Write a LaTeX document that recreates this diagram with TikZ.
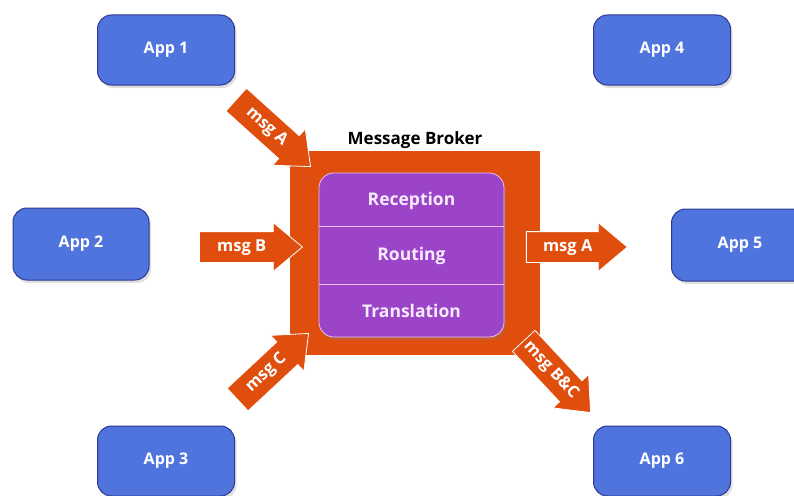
\documentclass[tikz,border=0pt]{standalone}
\usepackage{fontspec}
\setmainfont{Open Sans}
\usetikzlibrary{shapes.arrows,shadows,calc}
\definecolor{appblue}{RGB}{80,116,221}
\definecolor{appborder}{RGB}{45,58,145}
\definecolor{brokerorange}{RGB}{224,78,14}
\definecolor{corepurple}{RGB}{155,68,200}
\definecolor{coreborder}{RGB}{235,190,245}
\definecolor{coretext}{RGB}{248,235,255}
\begin{document}
\begin{tikzpicture}[x=1pt,y=-1pt,
  appbox/.style={draw=appborder, line width=1pt, fill=appblue, rounded corners=14pt,
    minimum width=137pt, minimum height=70pt, text=white,
    font=\bfseries\fontsize{16}{16}\selectfont,
    drop shadow={opacity=0.25, shadow xshift=2pt, shadow yshift=-3pt}},
  fatarrow/.style={single arrow, fill=brokerorange, draw=white, line width=0.8pt,
    text=white, font=\bfseries\fontsize{16.5}{17}\selectfont,
    text height=11.5pt, text depth=3.5pt, inner ysep=7.5pt, inner xsep=3pt,
    single arrow head extend=9pt, single arrow tip angle=80, minimum height=100pt,
    anchor=tip},
  section/.style={text=coretext, font=\bfseries\fontsize{17.5}{18}\selectfont},
  divider/.style={draw=coreborder, line width=0.8pt}
]
\useasboundingbox[fill=white] (0,0) rectangle (794,495);

% applications
\node[appbox] (app1) at (166,50) {App 1};
\node[appbox, minimum width=136pt, minimum height=72pt] (app2) at (81,244) {App 2};
\node[appbox] (app3) at (166,461) {App 3};
\node[appbox] (app4) at (662,50) {App 4};
\node[appbox, minimum height=72pt] (app5) at (740,245) {App 5};
\node[appbox] (app6) at (662,461) {App 6};

% broker
\node[fill=brokerorange, minimum width=250pt, minimum height=204pt, inner sep=0pt] (broker) at (415,253) {};
\node[font=\bfseries\fontsize{17}{17}\selectfont, text=black] (brokerlabel) at (415,140) {Message Broker};
\node[fill=corepurple, draw=coreborder, line width=0.8pt, rounded corners=15pt,
  minimum width=185pt, minimum height=164pt, inner sep=0pt,
  drop shadow={opacity=0.3, shadow xshift=2pt, shadow yshift=-3pt}] (core) at (411.5,255) {};
\coordinate (d1w) at ($(core.north west)!0.329!(core.south west)$);
\coordinate (d1e) at ($(core.north east)!0.329!(core.south east)$);
\coordinate (d2w) at ($(core.north west)!0.677!(core.south west)$);
\coordinate (d2e) at ($(core.north east)!0.677!(core.south east)$);
\draw[divider] (d1w) -- (d1e);
\draw[divider] (d2w) -- (d2e);
\node[section] (reception) at (411.5,201) {Reception};
\node[section] (routing) at (411.5,256) {Routing};
\node[section] (translation) at (411.5,311) {Translation};

% message arrows
\node[fatarrow, rotate=-42] (msgA1) at (311,167) {msg A};
\node[fatarrow, minimum height=103pt] (msgB) at (303,247) {msg B};
\node[fatarrow, rotate=43, minimum height=97pt] (msgC) at (309,333) {msg C};
\node[fatarrow, minimum height=101pt] (msgA2) at (628,247) {msg A};
\node[fatarrow, rotate=-47, minimum height=98pt] (msgBC) at (591,413) {msg B\&C};
\end{tikzpicture}
\end{document}
